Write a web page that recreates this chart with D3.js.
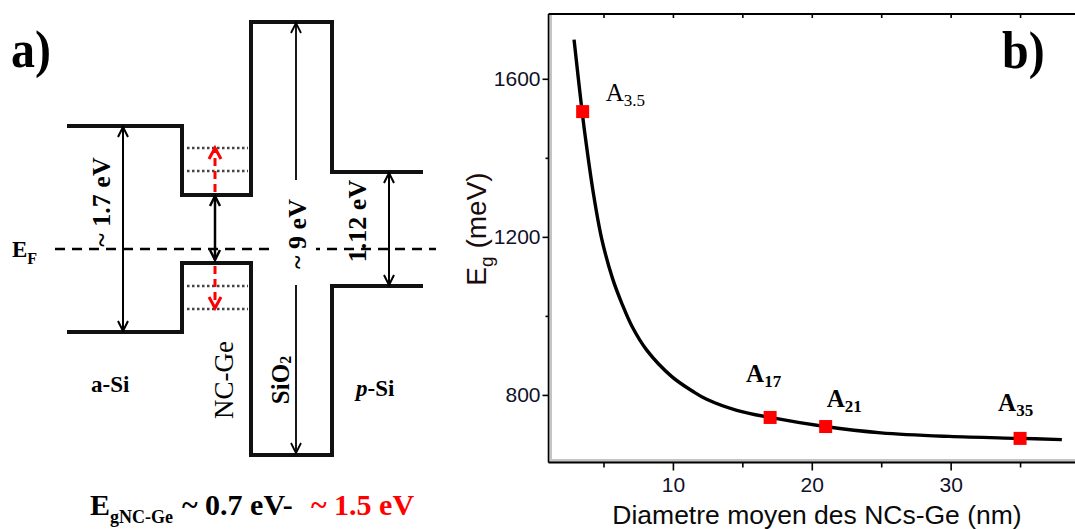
<!DOCTYPE html>
<html><head><meta charset="utf-8">
<script src="https://cdn.jsdelivr.net/npm/d3@7"></script>
<style>body{margin:0;background:#fff;} svg{display:block;}</style>
</head><body>
<svg id="c" width="1075" height="529"></svg>
<script>
// ---------- Panel b data ----------
const curveD  = [2.88,3.46,3.74,4.25,4.86,5.65,6.34,7.06,8.10,9.90,11.48,12.43,14.60,16.99,20.95,24.98,29.88,34.99,38.01];
const curveEg = [1699,1517,1440,1315,1197,1095,1030,973,914,847,808,789,761,743,720,704,695,690,687];
const sampleNames = ["3.5","17","21","35"];
const sampleD  = [3.5,17,21,35];
const sampleEg = [1517,743,720,690];
const xMajorTicks = [10,20,30];
const xMinorTicks = [5,15,25,35];
const yMajorTicks = [800,1200,1600];
const yMinorTicks = [1000,1400];
const xTitle = "Diametre moyen des NCs-Ge (nm)";

// ---------- Panel a data (schematic band levels relative to E_F, arbitrary units) ----------
const regions = ["a-Si","NC-Ge","SiO2","p-Si"];
const regionEdges = [0,115,184,265,356];
const cbLevels = [123,54,227,77];
const vbLevels = [-83,-14,-206,-37];
const confinedLevels = [101,78,-37,-60];
const gapLabels = ["~ 1.7 eV","~ 9 eV","1.12 eV"];

const svg = d3.select("#c");
const serif = "'Liberation Serif','Times New Roman',serif";
const sans = "'Liberation Sans',Arial,sans-serif";

// ================= Panel a =================
const xA = d3.scaleLinear().domain([0,356]).range([67,423]);
const yA = d3.scaleLinear().domain([0,100]).range([249,149]);
const gA = svg.append("g");

confinedLevels.forEach(l => {
  gA.append("line").attr("x1", xA(120)).attr("x2", xA(181))
    .attr("y1", yA(l)).attr("y2", yA(l))
    .attr("stroke", "#444").attr("stroke-width", 2.5).attr("stroke-dasharray", "2.5,2.5");
});

gA.append("line").attr("x1", xA(-12)).attr("x2", xA(369)).attr("y1", yA(0)).attr("y2", yA(0))
  .attr("stroke", "#000").attr("stroke-width", 2.5).attr("stroke-dasharray", "10,7");

function bandPath(levels){
  const p = d3.path();
  p.moveTo(xA(regionEdges[0]), yA(levels[0]));
  for (let i = 0; i < levels.length; i++) {
    p.lineTo(xA(regionEdges[i+1]), yA(levels[i]));
    if (i < levels.length - 1) p.lineTo(xA(regionEdges[i+1]), yA(levels[i+1]));
  }
  return p.toString();
}
[cbLevels, vbLevels].forEach(lv => {
  gA.append("path").attr("d", bandPath(lv)).attr("fill", "none")
    .attr("stroke", "#111").attr("stroke-width", 4).attr("stroke-linejoin", "miter");
});

function head(g, x, y, dir, color, w, hw, hl){
  g.append("path").attr("d", `M${x-hw},${y - dir*hl} L${x},${y} L${x+hw},${y - dir*hl}`)
    .attr("fill", "none").attr("stroke", color).attr("stroke-width", w);
}
function dblArrow(g, x, yTop, yBot, w){
  g.append("line").attr("x1", x).attr("x2", x).attr("y1", yTop).attr("y2", yBot)
    .attr("stroke", "#000").attr("stroke-width", w);
  head(g, x, yTop, -1, "#000", w, 5, 10);
  head(g, x, yBot, 1, "#000", w, 5, 10);
}

gA.append("rect").attr("x", 273).attr("y", 185).attr("width", 43).attr("height", 98).attr("fill", "#fff");

dblArrow(gA, xA(56), yA(cbLevels[0]) + 1, yA(vbLevels[0]) - 1, 2);
dblArrow(gA, xA(148), yA(cbLevels[1]) + 1, yA(vbLevels[1]) - 3, 2.5);
gA.append("line").attr("x1", xA(229)).attr("x2", xA(229)).attr("y1", yA(cbLevels[2]) + 1).attr("y2", 180)
  .attr("stroke", "#000").attr("stroke-width", 1.8);
head(gA, xA(229), yA(cbLevels[2]) + 1, -1, "#000", 1.8, 5, 10);
gA.append("line").attr("x1", xA(229)).attr("x2", xA(229)).attr("y1", 285).attr("y2", yA(vbLevels[2]) - 2)
  .attr("stroke", "#000").attr("stroke-width", 1.8);
head(gA, xA(229), yA(vbLevels[2]) - 2, 1, "#000", 1.8, 5, 10);
dblArrow(gA, xA(322), yA(cbLevels[3]) + 1, yA(vbLevels[3]) - 1, 2);

gA.append("line").attr("x1", xA(148)).attr("x2", xA(148)).attr("y1", yA(cbLevels[1]) - 3).attr("y2", yA(confinedLevels[0]))
  .attr("stroke", "#ff0000").attr("stroke-width", 3).attr("stroke-dasharray", "8,5");
head(gA, xA(148), yA(confinedLevels[0]), -1, "#ff0000", 3, 6, 11);
gA.append("line").attr("x1", xA(148)).attr("x2", xA(148)).attr("y1", yA(vbLevels[1]) + 3).attr("y2", yA(confinedLevels[3]) - 1)
  .attr("stroke", "#ff0000").attr("stroke-width", 3).attr("stroke-dasharray", "8,5");
head(gA, xA(148), yA(confinedLevels[3]) - 1, 1, "#ff0000", 3, 6, 11);

function rotLabel(g, x, y, txt, size, weight){
  return g.append("text").attr("transform", `translate(${x},${y}) rotate(-90)`)
    .attr("text-anchor", "middle").attr("dominant-baseline", "central")
    .attr("font-family", serif).attr("font-size", size).attr("font-weight", weight).text(txt);
}
rotLabel(gA, 101, 202, gapLabels[0], 26, "bold");
rotLabel(gA, 297, 234, gapLabels[1], 26, "bold");
rotLabel(gA, 357, 221, gapLabels[2], 26, "bold");
rotLabel(gA, 224, 380, regions[1], 27, "normal");
const sio = gA.append("text").attr("transform", "translate(280,380) rotate(-90)")
  .attr("text-anchor", "middle").attr("dominant-baseline", "central")
  .attr("font-family", serif).attr("font-size", 25).attr("font-weight", "bold");
sio.append("tspan").text("SiO");
sio.append("tspan").attr("font-size", 16).attr("dy", 5).text("2");

gA.append("text").attr("x", 91).attr("y", 392).attr("font-family", serif).attr("font-size", 23)
  .attr("font-weight", "bold").text(regions[0]);
const ps = gA.append("text").attr("x", 356).attr("y", 396).attr("font-family", serif).attr("font-size", 23).attr("font-weight", "bold");
ps.append("tspan").attr("font-style", "italic").text("p");
ps.append("tspan").text("-Si");

const ef = gA.append("text").attr("x", 12).attr("y", 257).attr("font-family", serif).attr("font-weight", "bold").attr("font-size", 23);
ef.append("tspan").text("E");
ef.append("tspan").attr("font-size", 16).attr("dy", 7).text("F");

svg.append("text").attr("transform", "translate(11,67) scale(1,1.12)").attr("font-family", serif)
  .attr("font-weight", "bold").attr("font-size", 48).text("a)");

const f = svg.append("text").attr("y", 515).attr("font-family", serif).attr("font-weight", "bold").attr("font-size", 30);
f.append("tspan").attr("x", 90).text("E");
f.append("tspan").attr("x", 110).attr("dy", 8).attr("font-size", 18).text("gNC-Ge");
f.append("tspan").attr("x", 182).attr("dy", -8).text("~ 0.7 eV-");
f.append("tspan").attr("x", 311).attr("fill", "#ff0000").text("~ 1.5 eV");

// ================= Panel b =================
const L = 548.5, R = 1077, T = 14, B = 462.5;
const x = d3.scaleLinear().domain([1.04, 39.1]).range([L, R]);
const y = d3.scaleLinear().domain([629, 1764]).range([B, T]);
const gB = svg.append("g");
const tickColor = "#10102a";

gB.append("rect").attr("x", L + 0.5).attr("y", T).attr("width", 3).attr("height", B - T).attr("fill", "#c4c4c4");
gB.append("rect").attr("x", L).attr("y", B - 3.5).attr("width", R - L).attr("height", 3).attr("fill", "#c4c4c4");

gB.append("line").attr("x1", L).attr("x2", R).attr("y1", T).attr("y2", T).attr("stroke", "#000").attr("stroke-width", 2);
gB.append("line").attr("x1", L).attr("x2", R).attr("y1", B).attr("y2", B).attr("stroke", "#000").attr("stroke-width", 2);
gB.append("line").attr("x1", L).attr("x2", L).attr("y1", T).attr("y2", B).attr("stroke", "#000").attr("stroke-width", 1.6);

function styleAxis(g){
  g.select(".domain").remove();
  g.selectAll(".tick line").attr("stroke", "#000").attr("stroke-width", 1.6);
  g.selectAll("text").attr("fill", tickColor).attr("font-family", sans);
}
gB.append("g").attr("transform", `translate(0,${B})`)
  .call(d3.axisBottom(x).tickValues(xMajorTicks).tickSize(8).tickPadding(7).tickFormat(d3.format("d")))
  .call(styleAxis).call(g => g.selectAll("text").attr("font-size", 21));
gB.append("g").attr("transform", `translate(0,${B})`)
  .call(d3.axisBottom(x).tickValues(xMinorTicks).tickSize(5).tickFormat(""))
  .call(styleAxis);
gB.append("g").attr("transform", `translate(0,${T})`)
  .call(d3.axisBottom(x).tickValues(xMajorTicks.concat(xMinorTicks)).tickSize(4).tickFormat(""))
  .call(styleAxis);
gB.append("g").attr("transform", `translate(${L},0)`)
  .call(d3.axisLeft(y).tickValues(yMajorTicks).tickSize(6).tickPadding(2).tickFormat(d3.format("d")))
  .call(styleAxis).call(g => g.selectAll("text").attr("font-size", 21));
gB.append("g").attr("transform", `translate(${L},0)`)
  .call(d3.axisLeft(y).tickValues(yMinorTicks).tickSize(3).tickFormat(""))
  .call(styleAxis);

const yt = gB.append("text").attr("transform", "translate(486,229) rotate(-90)")
  .attr("text-anchor", "middle").attr("font-family", sans).attr("font-size", 28).attr("fill", "#1a0c0c");
yt.append("tspan").text("E");
yt.append("tspan").attr("font-size", 19).attr("dy", 7).text("g");
yt.append("tspan").attr("dy", -7).text(" (meV)");
gB.append("text").attr("x", 817).attr("y", 524).attr("text-anchor", "middle")
  .attr("font-family", sans).attr("font-size", 26.5).attr("fill", "#0a0a0a").text(xTitle);

const curve = curveD.map((d, i) => [d, curveEg[i]]);
gB.append("path").datum(curve)
  .attr("d", d3.line().x(d => x(d[0])).y(d => y(d[1])).curve(d3.curveCatmullRom.alpha(0.5)))
  .attr("fill", "none").attr("stroke", "#000").attr("stroke-width", 3.4);

const s = 13;
gB.selectAll("rect.pt").data(sampleD).join("rect").attr("class", "pt")
  .attr("x", (d) => x(d) - s/2).attr("y", (d, i) => y(sampleEg[i]) - s/2)
  .attr("width", s).attr("height", s).attr("fill", "#ff0000");

const labelOffsets = [[23,-11],[-24,-35],[1,-20],[-22,-27]];
const labelWeights = ["normal","bold","bold","bold"];
sampleNames.forEach((n, i) => {
  const t = gB.append("text").attr("x", x(sampleD[i]) + labelOffsets[i][0]).attr("y", y(sampleEg[i]) + labelOffsets[i][1])
    .attr("font-family", serif).attr("font-size", 25).attr("font-weight", labelWeights[i]).attr("fill", "#000");
  t.append("tspan").text("A");
  t.append("tspan").attr("font-size", 17).attr("dy", 5).text(n);
});

svg.append("text").attr("transform", "translate(1002,68) scale(1,1.1)").attr("font-family", serif)
  .attr("font-weight", "bold").attr("font-size", 48).text("b)");
</script>
</body></html>
